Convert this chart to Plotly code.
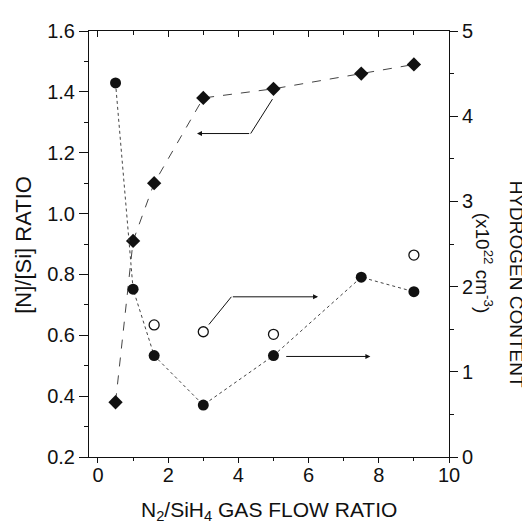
import plotly.graph_objects as go

# ---- data ----
flow_ratio = [0.5, 1.0, 1.6, 3.0, 5.0, 7.5, 9.0]
n_si_ratio = [0.38, 0.91, 1.10, 1.38, 1.41, 1.46, 1.49]
hydrogen_filled = [4.39, 1.97, 1.19, 0.61, 1.19, 2.11, 1.94]
flow_ratio_open = [1.6, 3.0, 5.0, 9.0]
hydrogen_open = [1.55, 1.47, 1.44, 2.37]

FONT = "Liberation Sans, Arial, sans-serif"
INK = "#111111"
LINE = "#444444"

fig = go.Figure()

fig.add_trace(go.Scatter(
    x=flow_ratio, y=n_si_ratio, mode="lines+markers",
    line=dict(color=LINE, width=1, dash="dash"),
    marker=dict(symbol="diamond", size=11, color=INK),
    xaxis="x", yaxis="y", showlegend=False))

fig.add_trace(go.Scatter(
    x=flow_ratio, y=hydrogen_filled, mode="lines+markers",
    line=dict(color=LINE, width=1, dash="dot"),
    marker=dict(symbol="circle", size=11, color=INK),
    xaxis="x", yaxis="y2", showlegend=False))

fig.add_trace(go.Scatter(
    x=flow_ratio_open, y=hydrogen_open, mode="markers",
    marker=dict(symbol="circle-open", size=10, color=INK, line=dict(width=1.3)),
    xaxis="x2", yaxis="y2", showlegend=False))

XR = [-0.256, 10]
tickfont = dict(family=FONT, size=20, color=INK)

# the page body adds an 8px margin, so the figure is sized to fit the window
fig.update_layout(
    width=522, height=515,
    margin=dict(l=81, r=81, t=13, b=66),
    paper_bgcolor="white", plot_bgcolor="white",
    font=dict(family=FONT, size=20, color=INK),
    xaxis=dict(
        range=XR, dtick=2, tick0=0, showgrid=False, zeroline=False,
        showline=True, linecolor=INK, linewidth=1,
        ticks="outside", ticklen=5, tickcolor=INK, tickfont=tickfont,
        ticklabelstandoff=-5,
        minor=dict(dtick=1, ticks="outside", ticklen=3, tickcolor=INK, showgrid=False),
    ),
    xaxis2=dict(
        range=XR, dtick=2, tick0=0, overlaying="x", side="top",
        showgrid=False, zeroline=False, showticklabels=False,
        showline=True, linecolor=INK, linewidth=1,
        ticks="inside", ticklen=6, tickcolor=INK,
        minor=dict(dtick=1, ticks="inside", ticklen=4, tickcolor=INK, showgrid=False),
    ),
    yaxis=dict(
        range=[0.2, 1.6], dtick=0.2, tick0=0.2, tickformat=".1f",
        showgrid=False, zeroline=False,
        showline=True, linecolor=INK, linewidth=1,
        ticks="outside", ticklen=9, tickcolor=INK, tickfont=tickfont,
        minor=dict(dtick=0.1, ticks="outside", ticklen=4, tickcolor=INK, showgrid=False),
    ),
    yaxis2=dict(
        range=[0, 5], dtick=1, tick0=0, overlaying="y", side="right",
        showgrid=False, zeroline=False,
        showline=True, linecolor=INK, linewidth=1,
        ticks="outside", ticklen=8, tickcolor=INK, tickfont=tickfont,
        minor=dict(dtick=0.5, ticks="outside", ticklen=4, tickcolor=INK, showgrid=False),
    ),
)

# axis titles
fig.add_annotation(text="[N]/[Si] RATIO", xref="paper", yref="paper",
                   x=-0.1806, y=0.498, textangle=-90, showarrow=False,
                   font=dict(family=FONT, size=22, color=INK),
                   xanchor="center", yanchor="middle")
fig.add_annotation(text="N<sub>2</sub>/SiH<sub>4</sub> GAS FLOW RATIO",
                   xref="paper", yref="paper", x=0.5, y=-0.126, showarrow=False,
                   font=dict(family=FONT, size=21, color=INK),
                   xanchor="center", yanchor="middle")
fig.add_annotation(text="HYDROGEN CONTENT", xref="paper", yref="paper",
                   x=1.19, y=0.406, textangle=90, showarrow=False,
                   font=dict(family=FONT, size=19, color=INK),
                   xanchor="center", yanchor="middle")
fig.add_annotation(text="(x10<sup>22</sup> cm<sup>-3</sup>)", xref="paper", yref="paper",
                   x=1.097, y=0.454, textangle=90, showarrow=False,
                   font=dict(family=FONT, size=19, color=INK),
                   xanchor="center", yanchor="middle")

# guide arrows
# 1: from diamond series toward the left axis
fig.add_shape(type="line", xref="x", yref="y", x0=4.97, y0=1.376, x1=4.35, y1=1.263,
              line=dict(color=INK, width=1))
fig.add_annotation(x=2.82, y=1.263, ax=4.35, ay=1.263, xref="x", yref="y",
                   axref="x", ayref="y", text="", showarrow=True,
                   arrowhead=2, arrowsize=1, arrowwidth=1, arrowcolor=INK)
# 2: from open circles toward the right axis
fig.add_shape(type="line", xref="x", yref="y2", x0=3.16, y0=1.555, x1=3.80, y1=1.88,
              line=dict(color=INK, width=1))
fig.add_annotation(x=6.27, y=1.88, ax=3.80, ay=1.88, xref="x", yref="y2",
                   axref="x", ayref="y2", text="", showarrow=True,
                   arrowhead=2, arrowsize=1, arrowwidth=1, arrowcolor=INK)
# 3: from filled circles toward the right axis
fig.add_annotation(x=7.76, y=1.18, ax=5.32, ay=1.18, xref="x", yref="y2",
                   axref="x", ayref="y2", text="", showarrow=True,
                   arrowhead=2, arrowsize=1, arrowwidth=1, arrowcolor=INK)

fig.write_html("out.html")
